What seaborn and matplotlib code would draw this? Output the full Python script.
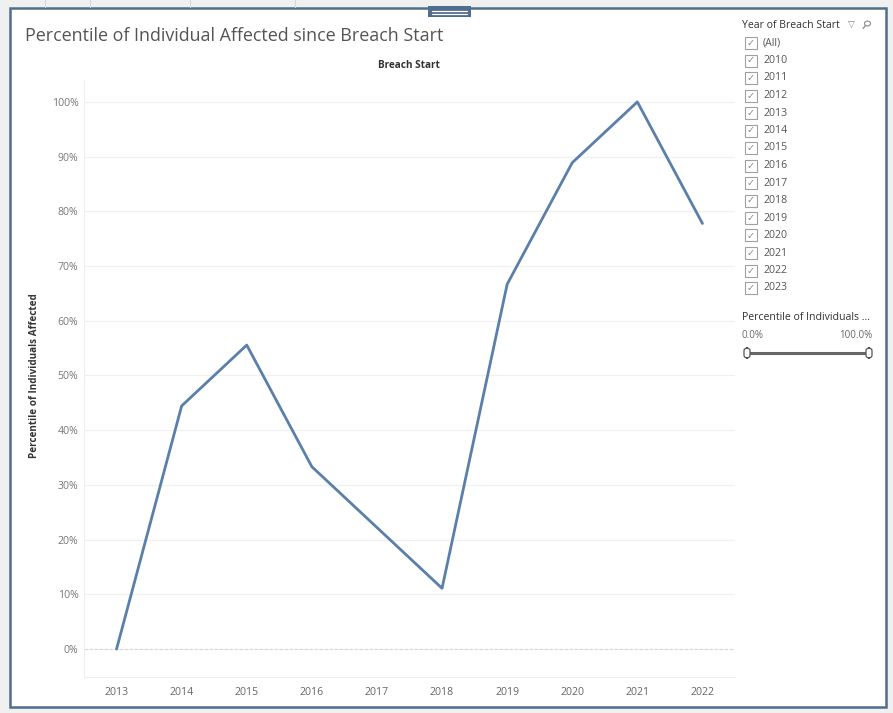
import matplotlib
matplotlib.use("Agg")
import matplotlib.pyplot as plt
from matplotlib.patches import Rectangle, FancyBboxPatch, Circle
from matplotlib.lines import Line2D
import seaborn as sns
import pandas as pd
import numpy as np

# Percentile rank of individuals affected, by year of breach start
years = ["2013", "2014", "2015", "2016", "2017", "2018", "2019", "2020", "2021", "2022"]
percentile = [0.0, 44.44, 55.56, 33.33, 22.22, 11.11, 66.67, 88.89, 100.0, 77.78]
y_ticks = [0, 10, 20, 30, 40, 50, 60, 70, 80, 90, 100]
filter_years = ["(All)", "2010", "2011", "2012", "2013", "2014", "2015", "2016",
                "2017", "2018", "2019", "2020", "2021", "2022", "2023"]
slider_range = ["0.0%", "100.0%"]

df = pd.DataFrame({"Breach Start": years, "Percentile": percentile})

sns.set_theme(style="white")
plt.rcParams["font.family"] = ["Open Sans", "DejaVu Sans"]

W, H = 893, 713
fig = plt.figure(figsize=(W / 100, H / 100), dpi=100)
fig.patch.set_facecolor("#f0f0f0")


def fx(px):
    return px / W


def fy(py):
    return 1 - py / H


# dashboard frame
fig.patches.append(Rectangle((fx(10), fy(707)), fx(876), (699) / H,
                             transform=fig.transFigure, facecolor="white",
                             edgecolor="#4f6d8c", linewidth=1.8, zorder=-10))
# faint tab outlines above the frame
for x0 in (45, 90, 190, 295):
    fig.lines.append(Line2D([fx(x0), fx(x0)], [fy(0), fy(7)], transform=fig.transFigure,
                            color="#d8d8d8", linewidth=0.8, zorder=-9))
# grip tab on the top edge
fig.patches.append(Rectangle((fx(428), fy(17)), fx(43), 11 / H, transform=fig.transFigure,
                             facecolor="#4f6d8c", edgecolor="none", zorder=3))
for yy in (10.5, 13.5):
    fig.lines.append(Line2D([fx(432), fx(467)], [fy(yy), fy(yy)], transform=fig.transFigure,
                            color="white", linewidth=0.9, zorder=4))

ax = fig.add_axes([fx(84), fy(677), fx(651), 597 / H])
ax.set_facecolor("none")

sns.lineplot(data=df, x="Breach Start", y="Percentile", ax=ax,
             color="#5a7fa8", linewidth=2.0, sort=False)

ax.set_xlim(-0.5, len(years) - 0.5)
ax.set_ylim(-5.1, 104.0)
ax.set_yticks(y_ticks)
ax.set_yticklabels([f"{v}%" for v in y_ticks])
ax.set_xticks(range(len(years)))
ax.set_xticklabels(years)
ax.set_xticks(np.arange(-0.5, len(years)), minor=True)

for v in y_ticks[1:]:
    ax.axhline(v, color="#f0f0f0", linewidth=0.9, zorder=0)
ax.axhline(0, color="#d9d9d9", linewidth=0.9, linestyle=(0, (3, 1)), zorder=0)

for side in ("top", "right"):
    ax.spines[side].set_visible(False)
ax.spines["left"].set_color("#eeeeee")
ax.spines["bottom"].set_color("#eeeeee")
ax.spines["left"].set_linewidth(0.8)
ax.spines["bottom"].set_linewidth(0.8)

ax.tick_params(axis="y", length=0, pad=4, labelsize=7.6, labelcolor="#777777")
ax.tick_params(axis="x", which="major", length=0, pad=7, labelsize=7.6, labelcolor="#666666")
ax.tick_params(axis="x", which="minor", length=6, color="#eeeeee", width=0.8)
ax.set_xlabel("")
ax.set_ylabel("")

# titles and axis captions
fig.text(fx(25), fy(36), "Percentile of Individual Affected since Breach Start",
         fontsize=12.9, color="#555555", va="center", ha="left")
fig.text(fx(409), fy(65), "Breach Start", fontsize=7.2, fontweight="bold",
         color="#333333", va="center", ha="center")
fig.text(fx(35), fy(376), "Percentile of Individuals Affected", fontsize=7.1,
         fontweight="bold", color="#333333", rotation=90, va="center", ha="center")

# filter card: Year of Breach Start
fig.text(fx(742), fy(25), "Year of Breach Start", fontsize=7.6, color="#333333",
         va="center", ha="left")
fig.text(fx(851), fy(25), "\u25bd", fontsize=6.5, color="#888888", va="center", ha="center",
         family=["DejaVu Sans"])
# magnifier icon
fig.patches.append(Circle((fx(867.5), fy(23.5)), 3.0 / W, transform=fig.transFigure,
                          facecolor="none", edgecolor="#888888", linewidth=0.8))
fig.lines.append(Line2D([fx(865.4), fx(863)], [fy(25.7), fy(28.5)], transform=fig.transFigure,
                        color="#888888", linewidth=0.9))
row0, step = 43, 17.5
for i, label in enumerate(filter_years):
    cy = row0 + i * step
    fig.patches.append(Rectangle((fx(745), fy(cy + 6)), fx(12), 12 / H,
                                 transform=fig.transFigure, facecolor="white",
                                 edgecolor="#a0a0a0", linewidth=0.8))
    fig.text(fx(751), fy(cy), "\u2713", fontsize=7, color="#888888", va="center",
             ha="center", family=["DejaVu Sans"])
    fig.text(fx(763), fy(cy), label, fontsize=7.6, color="#555555", va="center", ha="left")

# range slider card
fig.text(fx(742), fy(318), "Percentile of Individuals ...", fontsize=7.6, color="#333333",
         va="center", ha="left")
fig.text(fx(742), fy(336), slider_range[0], fontsize=7, color="#666666", va="center", ha="left")
fig.text(fx(872), fy(336), slider_range[1], fontsize=7, color="#666666", va="center", ha="right")
fig.lines.append(Line2D([fx(750), fx(868)], [fy(353), fy(353)], transform=fig.transFigure,
                        color="#666666", linewidth=2.2))
for hx in (747, 869):
    fig.patches.append(FancyBboxPatch((fx(hx - 3), fy(358)), fx(6), 10 / H,
                                      boxstyle="round,pad=0,rounding_size=0.004",
                                      transform=fig.transFigure, facecolor="white",
                                      edgecolor="#555555", linewidth=0.9, zorder=5))

fig.savefig("out.png", dpi=100)
